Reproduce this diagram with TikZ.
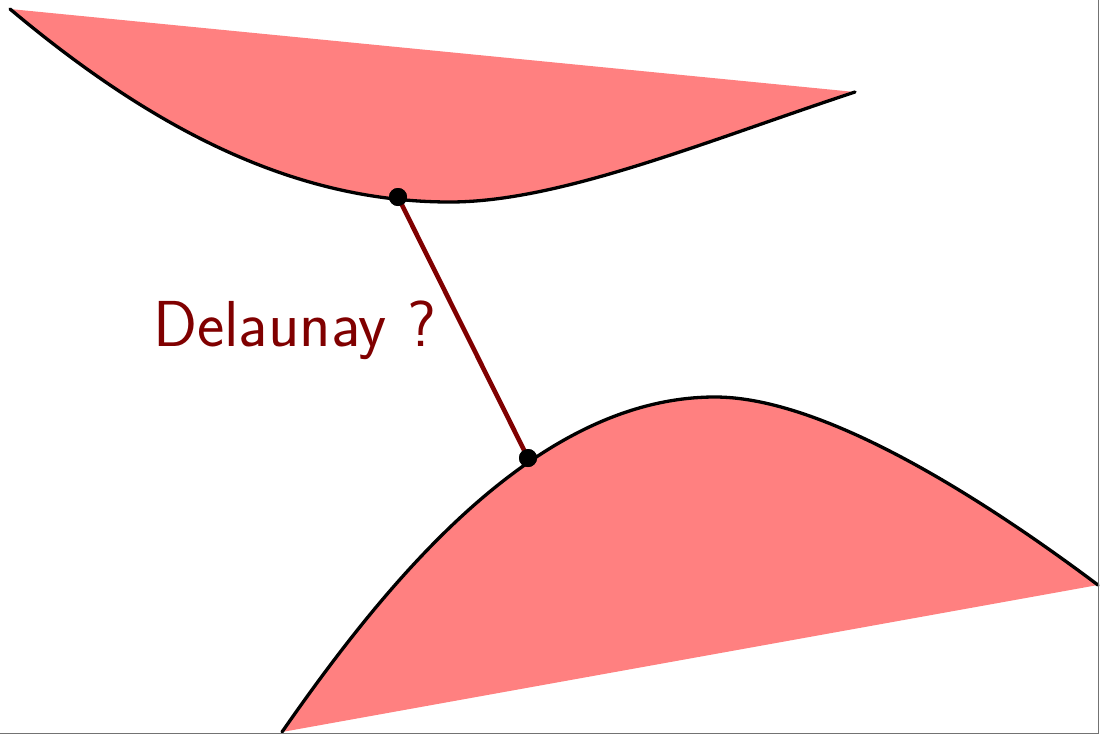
\documentclass[tikz,border=0pt]{standalone}
\begin{document}
\begin{tikzpicture}[x=1pt,y=-1pt,
  region/.style={fill=red!50, draw=none},
  boundary/.style={draw=black, line width=3.3pt, line cap=round},
  edge/.style={draw=red!50!black, line width=4.6pt},
  dot/.style={circle, fill=black, inner sep=0pt, minimum size=18pt},
  lbl/.style={text=red!50!black, font=\sffamily\fontsize{65}{65}\selectfont, inner sep=0pt, anchor=base west},
  frame/.style={draw=black!55, line width=1.2pt}]
\useasboundingbox (0,0) rectangle (1101,737);
% top region
\coordinate (t0) at (10,9);
\coordinate (t1) at (450,202);
\coordinate (t2) at (855,92);
\fill[region] (t0) .. controls (160,135) and (300,202) .. (t1) .. controls (560,202) and (705,141.5) .. (t2) -- cycle;
\draw[boundary] (t0) .. controls (160,135) and (300,202) .. (t1) .. controls (560,202) and (705,141.5) .. (t2);
% bottom region
\coordinate (b0) at (282,732);
\coordinate (b1) at (715,397);
\coordinate (b2) at (1098,585);
\fill[region] (b0) .. controls (384.6,584.4) and (535,397) .. (b1) .. controls (815,397) and (962,483) .. (b2) -- cycle;
\draw[boundary] (b0) .. controls (384.6,584.4) and (535,397) .. (b1) .. controls (815,397) and (962,483) .. (b2);
% frame
\coordinate (fr1) at (1098.5,0);
\coordinate (fr2) at (1098.5,733.5);
\coordinate (fr3) at (0,733.5);
\draw[frame] (fr1) -- (fr2) -- (fr3);
% edge and points
\node[dot] (p) at (398,197) {};
\node[dot] (q) at (528,458) {};
\draw[edge] (p.center) -- (q.center);
\node[dot] at (p) {};
\node[dot] at (q) {};
\node[lbl] (lab) at (153,346) {Delaunay ?};
\end{tikzpicture}
\end{document}
